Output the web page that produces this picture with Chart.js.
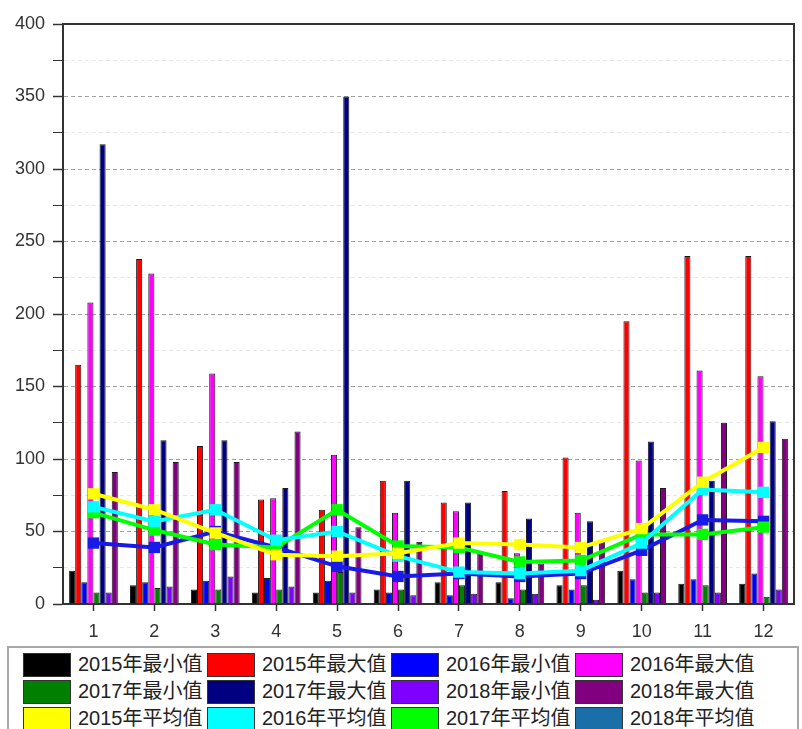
<!DOCTYPE html>
<html>
<head>
<meta charset="utf-8">
<script src="https://cdn.jsdelivr.net/npm/chart.js@4.4.1/dist/chart.umd.min.js"></script>
<style>
  html, body { margin: 0; padding: 0; background: #fff; width: 802px; height: 729px; overflow: hidden; }
  #wrap { position: absolute; left: 0; top: 0; width: 802px; height: 645px; }
  #legend { position: absolute; left: 7px; top: 646px; width: 792px; height: 100px; border: 2px solid #a8a8a8; box-sizing: border-box; }
  .item { position: absolute; height: 23px; white-space: nowrap; }
  .sw { position: absolute; left: 0; top: 0; width: 46px; height: 22px; border: 1px solid #333; }
  .tx { position: absolute; left: 55px; top: 0px; font: 20px "Liberation Sans", "Noto Sans CJK SC", sans-serif; line-height: 23px; color: #222; }
</style>
</head>
<body>
<div id="wrap"><canvas id="c"></canvas></div>
<div id="legend"></div>
<script>
// ---- data ----
const months = ['1','2','3','4','5','6','7','8','9','10','11','12'];
const min2015 = [23, 13, 10, 8, 8, 10, 15, 15, 13, 23, 14, 14];
const max2015 = [165, 238, 109, 72, 65, 85, 70, 78, 101, 195, 240, 240];
const min2016 = [15, 15, 16, 18, 16, 8, 6, 4, 10, 17, 17, 21];
const max2016 = [208, 228, 159, 73, 103, 63, 64, 35, 63, 99, 161, 157];
const min2017 = [8, 11, 10, 10, 22, 10, 13, 10, 13, 8, 13, 5];
const max2017 = [317, 113, 113, 80, 350, 85, 70, 59, 57, 112, 85, 126];
const min2018 = [8, 12, 19, 12, 8, 6, 7, 7, 3, 8, 8, 10];
const max2018 = [91, 98, 98, 119, 53, 43, 36, 28, 44, 80, 125, 114];
const avg2015 = [76, 65, 49, 34, 33, 35, 42, 41, 39, 52, 84, 108];
const avg2016 = [67, 57, 65, 44, 50, 33, 22, 21, 23, 42, 79, 77];
const avg2017 = [63, 51, 41, 39, 65, 40, 39, 29, 30, 48, 48, 53];
const avg2018 = [42, 39, 50, 39, 26, 19, 21, 19, 21, 37, 58, 57];
const yTickLabels = [0, 50, 100, 150, 200, 250, 300, 350, 400];

function bar(label, data, color) {
  return { type: 'bar', label, data, backgroundColor: color, borderColor: '#1a1a1a', borderWidth: 1, order: 2, legendColor: color };
}
function line(label, data, color, legendColor) {
  return { type: 'line', label, data, borderColor: color, backgroundColor: color, borderWidth: 4,
           pointStyle: 'rect', pointRadius: 8, pointBorderWidth: 0, pointBackgroundColor: color,
           tension: 0, fill: false, order: 1, legendColor: legendColor || color };
}

const datasets = [
  bar('2015年最小值', min2015, '#000000'),
  bar('2015年最大值', max2015, '#ff0000'),
  bar('2016年最小值', min2016, '#0000ff'),
  bar('2016年最大值', max2016, '#ff00ff'),
  bar('2017年最小值', min2017, '#008000'),
  bar('2017年最大值', max2017, '#000080'),
  bar('2018年最小值', min2018, '#8000ff'),
  bar('2018年最大值', max2018, '#800080'),
  line('2015年平均值', avg2015, '#ffff00'),
  line('2016年平均值', avg2016, '#00ffff'),
  line('2017年平均值', avg2017, '#00ff00'),
  line('2018年平均值', avg2018, '#1a1ae6', '#1b6fa8')
];

const frame = {
  id: 'frame',
  afterDraw(chart) {
    const { ctx, chartArea: a } = chart;
    ctx.save();
    ctx.strokeStyle = '#333';
    ctx.lineWidth = 2;
    ctx.beginPath();
    ctx.moveTo(a.left, a.top);
    ctx.lineTo(a.right, a.top);
    ctx.lineTo(a.right, a.bottom);
    ctx.stroke();
    ctx.restore();
  }
};

const chart = new Chart(document.getElementById('c'), {
  data: { labels: months, datasets },
  options: {
    responsive: true,
    maintainAspectRatio: false,
    animation: false,
    layout: { padding: { top: 24, right: 2, left: 0, bottom: 0 } },
    plugins: { legend: { display: false }, tooltip: { enabled: false } },
    datasets: { bar: { categoryPercentage: 0.8, barPercentage: 1.0 } },
    scales: {
      x: {
        type: 'category',
        afterFit: s => { s.height = 41; },
        grid: { display: true, drawOnChartArea: false, drawTicks: true, offset: false, tickLength: 7, tickColor: '#333', tickWidth: 1.5 },
        border: { display: true, color: '#333', width: 2 },
        ticks: { color: '#333', padding: 10, font: { family: 'Liberation Sans, Arial', size: 18 }, maxRotation: 0 }
      },
      y: {
        min: 0, max: 400,
        afterFit: s => { s.width = 63; },
        grid: {
          drawOnChartArea: true, tickLength: 10,
          color: c => (c.tick && c.tick.value % 50 === 0) ? '#a0a0a0' : '#e6e6e6',
          tickColor: '#333',
          tickWidth: c => (c.tick && c.tick.value % 50 === 0) ? 1.5 : 1
        },
        border: { display: true, color: '#333', width: 2, dash: [4, 3] },
        ticks: {
          stepSize: 25, padding: 8, color: '#333',
          font: { family: 'Liberation Sans, Arial', size: 18 },
          callback: v => yTickLabels.includes(v) ? String(v) : ''
        }
      }
    }
  },
  plugins: [frame]
});

// HTML legend built from the chart's datasets
const lg = document.getElementById('legend');
chart.data.datasets.forEach((ds, i) => {
  const col = i % 4, row = Math.floor(i / 4);
  const it = document.createElement('div');
  it.className = 'item';
  it.style.left = (14 + col * 184) + 'px';
  it.style.top = (5 + row * 27) + 'px';
  const sw = document.createElement('span');
  sw.className = 'sw';
  sw.style.background = ds.legendColor;
  const tx = document.createElement('span');
  tx.className = 'tx';
  tx.textContent = ds.label;
  it.appendChild(sw); it.appendChild(tx);
  lg.appendChild(it);
});
</script>
</body>
</html>
